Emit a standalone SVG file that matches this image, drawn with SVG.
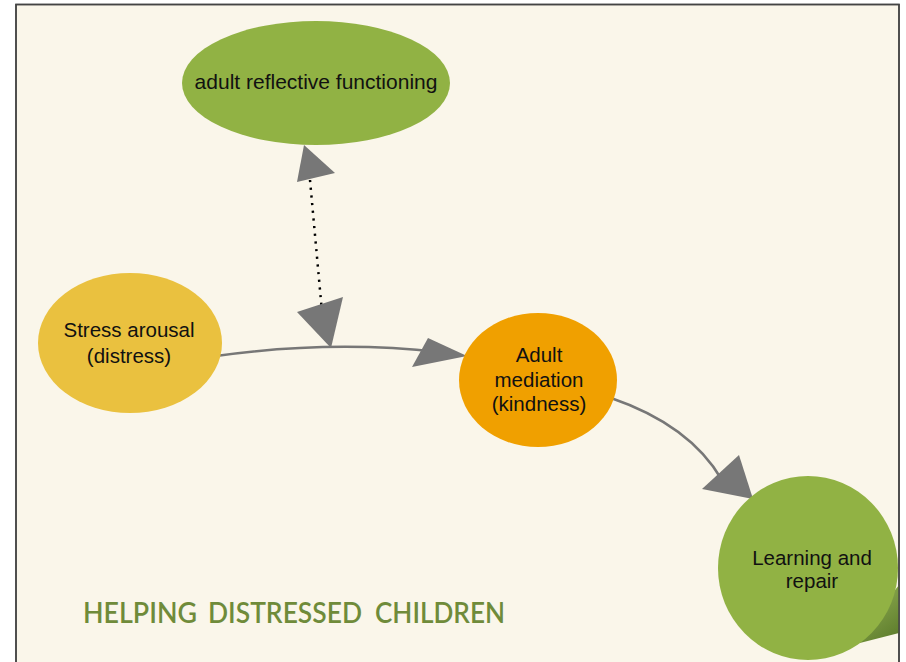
<svg xmlns="http://www.w3.org/2000/svg" width="906" height="662" viewBox="0 0 906 662">
<defs>
<style>
.lbl{font-family:"Liberation Sans",Arial,Helvetica,sans-serif;font-size:20.5px;fill:#111;text-anchor:middle}
.conn{fill:none;stroke:#777;stroke-width:2.5}
.head{fill:#777}
.green{fill:#91B244}
.ttl{font-family:Lato,"Open Sans","Liberation Sans",sans-serif;font-size:29px;font-weight:600;fill:#6F8B3A}
</style>
<clipPath id="frame"><rect x="16" y="4.5" width="883" height="670"/></clipPath>
<linearGradient id="curl" x1="0" y1="0" x2="0.6" y2="1">
<stop offset="0" stop-color="#9BB85A"/>
<stop offset="1" stop-color="#61802F"/>
</linearGradient>
</defs>
<rect width="906" height="662" fill="#fff"/>
<rect x="16" y="4.5" width="883" height="670" fill="#FAF6EA" stroke="#444" stroke-width="1.5"/>
<g clip-path="url(#frame)">
<polygon points="899,585 899,633 852,645" fill="url(#curl)"/>
<g id="connectors">
<path class="conn" d="M216,356 Q330,340 440,352"/>
<polygon class="head" points="428,338 412,367 467,356"/>
<line x1="310" y1="180" x2="322" y2="312" stroke="#000" stroke-width="2.5" stroke-dasharray="2.2 5.5"/>
<polygon class="head" points="304,145 297,182 335,173"/>
<polygon class="head" points="297,312 343,297 331,348"/>
<path class="conn" d="M611,398 Q690,425 722,480"/>
<polygon class="head" points="739,455 702,489 753,499"/>
</g>
<g id="node-reflective">
<ellipse class="green" cx="316" cy="83" rx="134" ry="62"/>
<text class="lbl" x="316" y="89" style="font-size:21px">adult reflective functioning</text>
</g>
<g id="node-stress">
<ellipse cx="130" cy="343" rx="92" ry="70" fill="#EAC13F"/>
<text class="lbl" x="129" y="337">Stress arousal</text>
<text class="lbl" x="129" y="363">(distress)</text>
</g>
<g id="node-mediation">
<ellipse cx="538" cy="380" rx="79" ry="67" fill="#F0A000"/>
<text class="lbl" x="539" y="362">Adult</text>
<text class="lbl" x="539" y="387">mediation</text>
<text class="lbl" x="539" y="411">(kindness)</text>
</g>
<g id="node-learning">
<ellipse class="green" cx="808" cy="568" rx="90" ry="92"/>
<text class="lbl" x="812" y="565">Learning and</text>
<text class="lbl" x="812" y="588">repair</text>
</g>
<g id="title">
<text class="ttl" y="623"><tspan x="83" textLength="114" lengthAdjust="spacingAndGlyphs">HELPING</tspan> <tspan x="208" textLength="154" lengthAdjust="spacingAndGlyphs">DISTRESSED</tspan> <tspan x="375" textLength="130" lengthAdjust="spacingAndGlyphs">CHILDREN</tspan></text>
</g>
</g>
<rect x="16" y="4.5" width="883" height="670" fill="none" stroke="#444" stroke-width="1.5"/>
</svg>
